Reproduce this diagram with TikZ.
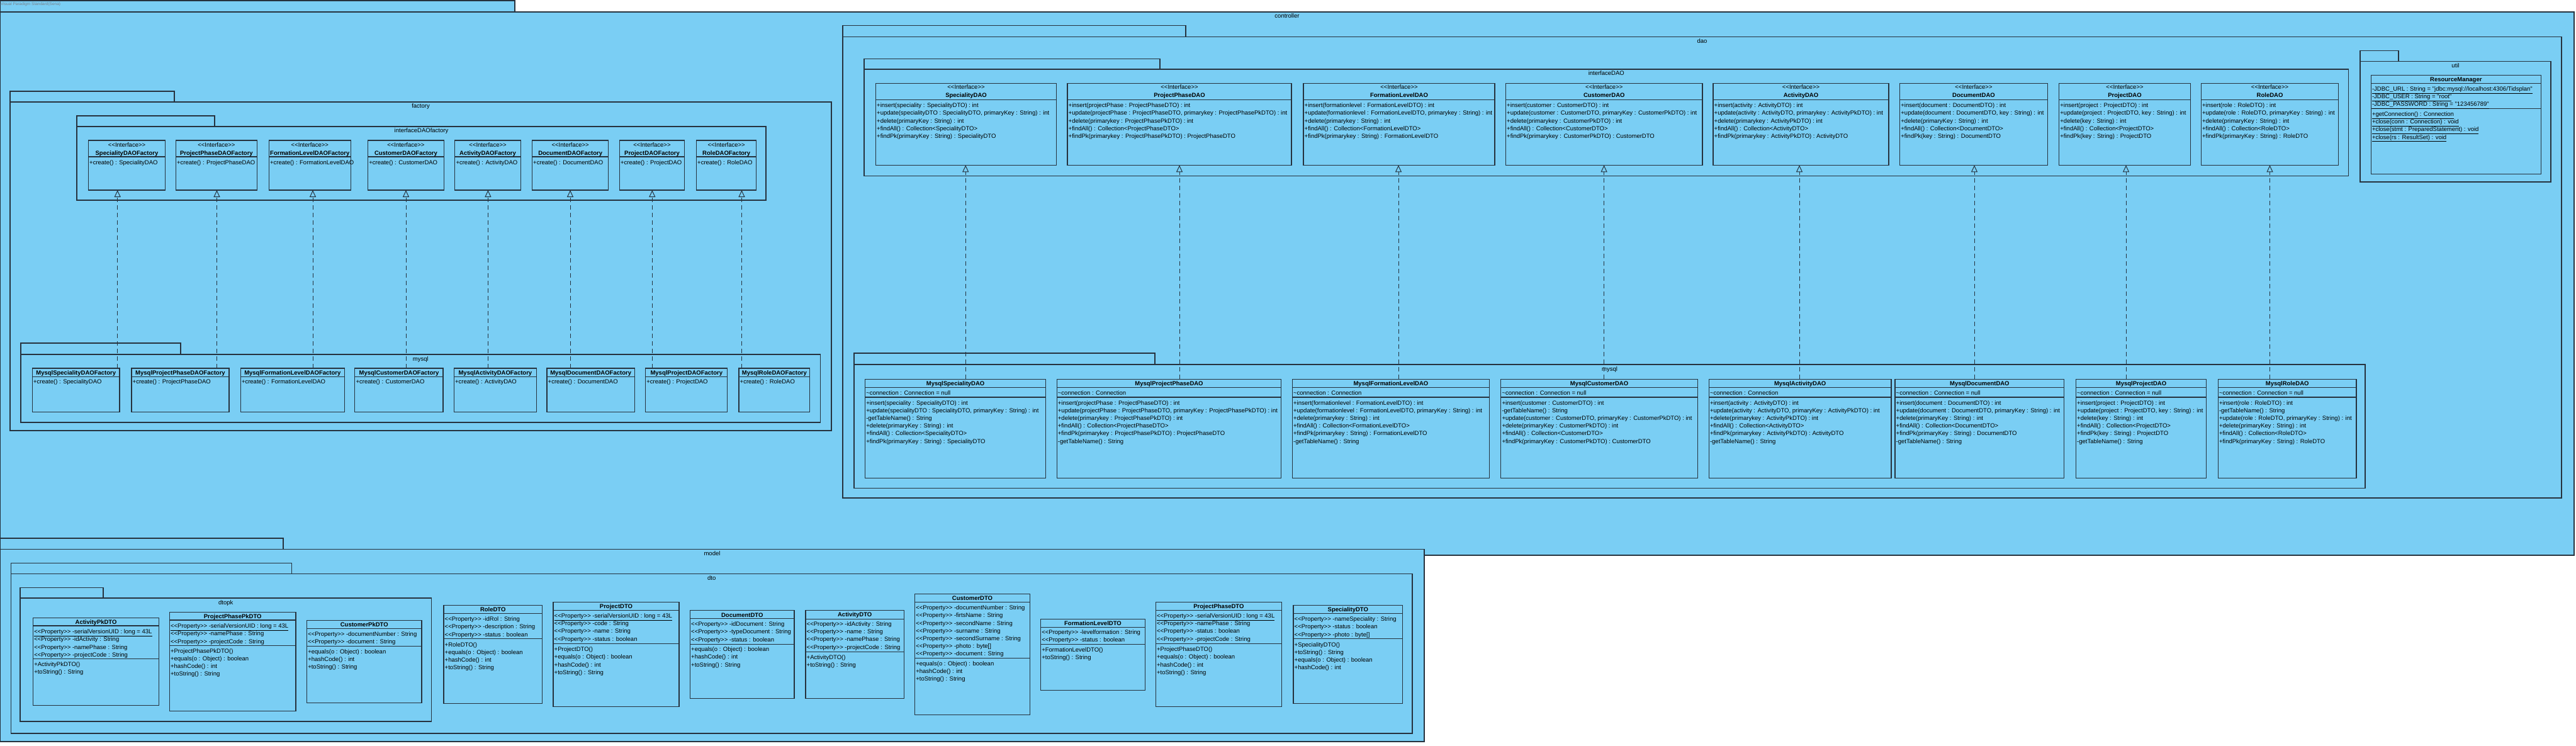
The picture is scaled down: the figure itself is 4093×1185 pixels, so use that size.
\documentclass[tikz,border=0pt]{standalone}
\usepackage{fontspec}
\setmainfont{Liberation Sans}[Ligatures=TeXOff]
\usetikzlibrary{arrows.meta}
\definecolor{bg}{RGB}{122,206,244}
\definecolor{lc}{RGB}{38,50,62}
\definecolor{wm}{RGB}{120,130,140}
\tikzset{
 pk/.style={draw=lc,fill=bg,line width=1.4pt,inner sep=0pt,outer sep=0pt,anchor=north west},
 cb/.style={draw=lc,fill=bg,line width=1.1pt,inner sep=0pt,outer sep=0pt,anchor=north west},
 dvl/.style={draw=lc,line width=1.1pt},
 pl/.style={font=\fontsize{9.5}{12}\selectfont,inner sep=0pt,anchor=base},
 hd/.style={font=\fontsize{9.5}{13}\selectfont,inner sep=0pt,anchor=north,align=center},
 ct/.style={font=\fontsize{9.5}{12.2}\selectfont,inner sep=0pt,anchor=north west,align=left},
 real/.style={draw=lc,line width=1pt,dash pattern=on 7pt off 5pt,-{Triangle[open,length=11pt,width=10pt]}},
 wmk/.style={font=\fontsize{6.5}{8}\selectfont,text=wm,inner sep=0pt,anchor=west},
}
\newcommand\pkgbox[8]{%
 \node[pk,minimum width={(#5-#3)*1pt},minimum height={(#6-#4)*1pt}] (#1t) at (#3,#4) {};
 \node[pk,minimum width={(#7-#3)*1pt},minimum height={(#8-#6)*1pt}] (#1) at (#3,#6) {};
 \node[pl] (#1l) at ({(#3+#7)/2},{#6+10}) {#2};}
\newcommand\cls[5]{\node[cb,minimum width={(#4-#2)*1pt},minimum height={(#5-#3)*1pt}] (#1) at (#2,#3) {};}
\newcommand\cdiv[2]{\draw[dvl] (#1.west |- 0,#2) -- (#1.east |- 0,#2);}
\newcommand\chd[3]{\node[hd] (#1h) at (#1.north |- 0,#2-5.7) {\strut #3};}
\newcommand\ccp[4]{\node[ct] (#1) at ({#2+1.5},{#3-5}) {\strut #4};}
\begin{document}
\begin{tikzpicture}[x=1pt,y=-1pt]
\fill[white] (0,0) rectangle (4093,1185);
\useasboundingbox (0,0) rectangle (4093,1185);

% ---------------- controller
\pkgbox{ctl}{controller}{0}{1}{818}{19}{4090}{882}
\node[wmk] (wmark) at (1,7) {Visual Paradigm Standard(Sena)};

\pkgbox{fac}{factory}{16}{145}{277}{162}{1321}{684}
\pkgbox{ifac}{interfaceDAOfactory}{122}{184}{341}{201}{1217}{318}
\pkgbox{mfac}{mysql}{33}{545}{287}{563}{1303.5}{671}

\pkgbox{dao}{dao}{1339}{40.3}{1884}{58.3}{4070}{791}
\pkgbox{idao}{interfaceDAO}{1373}{93.3}{1843}{110}{3731.5}{279.3}
\pkgbox{util}{util}{3750}{80.3}{3811}{97.3}{4053}{289}
\pkgbox{mdao}{mysql}{1357}{561}{1835}{579}{3758}{775.3}

% ---------------- model
\pkgbox{mod}{model}{0}{855}{450}{872.3}{2263}{1178}
\pkgbox{dto}{dto}{17.6}{894.3}{463.5}{911.3}{2244}{1165}
\pkgbox{dtopk}{dtopk}{32}{933.3}{164}{950}{685.4}{1146}

% ---------------- factory interfaces
\foreach \i/\xa/\xb/\nm in {1/140.5/262.6/Speciality,2/279.4/408.5/ProjectPhase,3/427.4/557.2/FormationLevel,4/584.6/705.2/Customer,5/722.8/827.3/Activity,6/845.5/966.9/Document,7/984.4/1087.6/Project,8/1106.5/1201.9/Role}{
 \cls{fi\i}{\xa}{223}{\xb}{302}
 \cdiv{fi\i}{249}
 \chd{fi\i}{230}{<<Interface>>\\\textbf{\nm DAOFactory}}
 \ccp{fi\i o}{\xa}{258}{+create() : \nm DAO}
}
% ---------------- mysql factories
\foreach \i/\xa/\xb/\nm in {1/51.5/190/Speciality,2/209/364/ProjectPhase,3/382.3/547.3/FormationLevel,4/563.9/704/Customer,5/721.4/852.4/Activity,6/869/1008.3/Document,7/1025.7/1155.9/Project,8/1174/1286.9/Role}{
 \cls{mf\i}{\xa}{585}{\xb}{654.3}
 \cdiv{mf\i}{598.3}
 \chd{mf\i}{592}{\textbf{Mysql\nm DAOFactory}}
 \ccp{mf\i o}{\xa}{606}{+create() : \nm DAO}
}

% ---------------- DAO interfaces
\cls{di1}{1391.5}{132.3}{1678.5}{262.3}\cdiv{di1}{158.3}
\chd{di1}{138.3}{<<Interface>>\\\textbf{SpecialityDAO}}
\ccp{di1o}{1391.5}{167}{+insert(speciality : SpecialityDTO) : int\\+update(specialityDTO : SpecialityDTO, primaryKey : String) : int\\+delete(primaryKey : String) : int\\+findAll() : Collection<SpecialityDTO>\\+findPk(primaryKey : String) : SpecialityDTO}

\cls{di2}{1696}{132.3}{2052}{262.3}\cdiv{di2}{158.3}
\chd{di2}{138.3}{<<Interface>>\\\textbf{ProjectPhaseDAO}}
\ccp{di2o}{1696}{167}{+insert(projectPhase : ProjectPhaseDTO) : int\\+update(projectPhase : ProjectPhaseDTO, primarykey : ProjectPhasePkDTO) : int\\+delete(primarykey : ProjectPhasePkDTO) : int\\+findAll() : Collection<ProjectPhaseDTO>\\+findPk(primarykey : ProjectPhasePkDTO) : ProjectPhaseDTO}

\cls{di3}{2071}{132.3}{2375}{262.3}\cdiv{di3}{158.3}
\chd{di3}{138.3}{<<Interface>>\\\textbf{FormationLevelDAO}}
\ccp{di3o}{2071}{167}{+insert(formationlevel : FormationLevelDTO) : int\\+update(formationlevel : FormationLevelDTO, primarykey : String) : int\\+delete(primarykey : String) : int\\+findAll() : Collection<FormationLevelDTO>\\+findPk(primarykey : String) : FormationLevelDTO}

\cls{di4}{2392.5}{132.3}{2705}{262.3}\cdiv{di4}{158.3}
\chd{di4}{138.3}{<<Interface>>\\\textbf{CustomerDAO}}
\ccp{di4o}{2392.5}{167}{+insert(customer : CustomerDTO) : int\\+update(customer : CustomerDTO, primaryKey : CustomerPkDTO) : int\\+delete(primarykey : CustomerPkDTO) : int\\+findAll() : Collection<CustomerDTO>\\+findPk(primarykey : CustomerPkDTO) : CustomerDTO}

\cls{di5}{2722}{132.3}{3001}{262.3}\cdiv{di5}{158.3}
\chd{di5}{138.3}{<<Interface>>\\\textbf{ActivityDAO}}
\ccp{di5o}{2722}{167}{+insert(activity : ActivityDTO) : int\\+update(activity : ActivityDTO, primarykey : ActivityPkDTO) : int\\+delete(primarykey : ActivityPkDTO) : int\\+findAll() : Collection<ActivityDTO>\\+findPk(primarykey : ActivityPkDTO) : ActivityDTO}

\cls{di6}{3018.7}{132.3}{3253.2}{262.3}\cdiv{di6}{158.3}
\chd{di6}{138.3}{<<Interface>>\\\textbf{DocumentDAO}}
\ccp{di6o}{3018.7}{167}{+insert(document : DocumentDTO) : int\\+update(document : DocumentDTO, key : String) : int\\+delete(primaryKey : String) : int\\+findAll() : Collection<DocumentDTO>\\+findPk(key : String) : DocumentDTO}

\cls{di7}{3271.7}{132.3}{3480.3}{262.3}\cdiv{di7}{158.3}
\chd{di7}{138.3}{<<Interface>>\\\textbf{ProjectDAO}}
\ccp{di7o}{3271.7}{167}{+insert(project : ProjectDTO) : int\\+update(project : ProjectDTO, key : String) : int\\+delete(key : String) : int\\+findAll() : Collection<ProjectDTO>\\+findPk(key : String) : ProjectDTO}

\cls{di8}{3497.4}{132.3}{3715.6}{262.3}\cdiv{di8}{158.3}
\chd{di8}{138.3}{<<Interface>>\\\textbf{RoleDAO}}
\ccp{di8o}{3497.4}{167}{+insert(role : RoleDTO) : int\\+update(role : RoleDTO, primaryKey : String) : int\\+delete(primaryKey : String) : int\\+findAll() : Collection<RoleDTO>\\+findPk(primaryKey : String) : RoleDTO}

% ---------------- ResourceManager
\cls{rm}{3767.3}{119.3}{4037.3}{276.3}\cdiv{rm}{132.3}\cdiv{rm}{172.3}
\chd{rm}{125.7}{\textbf{ResourceManager}}
\ccp{rma}{3767.3}{140.7}{\underline{-JDBC\_URL : String = "jdbc:mysql://localhost:4306/Tidsplan"}\\\underline{-JDBC\_USER : String = "root"}\\\underline{-JDBC\_PASSWORD : String = "123456789"}}
\ccp{rmo}{3767.3}{180.7}{\underline{+getConnection() : Connection}\\\underline{+close(conn : Connection) : void}\\\underline{+close(stmt : PreparedStatement) : void}\\\underline{+close(rs : ResultSet) : void}}

% ---------------- Mysql DAOs
\cls{md1}{1374.6}{602.3}{1661.6}{759.3}\cdiv{md1}{615.7}\cdiv{md1}{631}
\chd{md1}{609}{\textbf{MysqlSpecialityDAO}}
\ccp{md1a}{1374.6}{624}{\textasciitilde connection : Connection = null}
\ccp{md1o}{1374.6}{639.3}{+insert(speciality : SpecialityDTO) : int\\+update(specialityDTO : SpecialityDTO, primaryKey : String) : int\\-getTableName() : String\\+delete(primaryKey : String) : int\\+findAll() : Collection<SpecialityDTO>\\+findPk(primaryKey : String) : SpecialityDTO}

\cls{md2}{1679.2}{602.3}{2035.8}{759.3}\cdiv{md2}{615.7}\cdiv{md2}{631}
\chd{md2}{609}{\textbf{MysqlProjectPhaseDAO}}
\ccp{md2a}{1679.2}{624}{\textasciitilde connection : Connection}
\ccp{md2o}{1679.2}{639.3}{+insert(projectPhase : ProjectPhaseDTO) : int\\+update(projectPhase : ProjectPhaseDTO, primaryKey : ProjectPhasePkDTO) : int\\+delete(primarykey : ProjectPhasePkDTO) : int\\+findAll() : Collection<ProjectPhaseDTO>\\+findPk(primarykey : ProjectPhasePkDTO) : ProjectPhaseDTO\\-getTableName() : String}

\cls{md3}{2053.4}{602.3}{2366.4}{759.3}\cdiv{md3}{615.7}\cdiv{md3}{631}
\chd{md3}{609}{\textbf{MysqlFormationLevelDAO}}
\ccp{md3a}{2053.4}{624}{\textasciitilde connection : Connection}
\ccp{md3o}{2053.4}{639.3}{+insert(formationlevel : FormationLevelDTO) : int\\+update(formationlevel : FormationLevelDTO, primaryKey : String) : int\\+delete(primarykey : String) : int\\+findAll() : Collection<FormationLevelDTO>\\+findPk(primarykey : String) : FormationLevelDTO\\-getTableName() : String}

\cls{md4}{2384.8}{602.3}{2697.2}{759.3}\cdiv{md4}{615.7}\cdiv{md4}{631}
\chd{md4}{609}{\textbf{MysqlCustomerDAO}}
\ccp{md4a}{2384.8}{624}{\textasciitilde connection : Connection = null}
\ccp{md4o}{2384.8}{639.3}{+insert(customer : CustomerDTO) : int\\-getTableName() : String\\+update(customer : CustomerDTO, primaryKey : CustomerPkDTO) : int\\+delete(primaryKey : CustomerPkDTO) : int\\+findAll() : Collection<CustomerDTO>\\+findPk(primaryKey : CustomerPkDTO) : CustomerDTO}

\cls{md5}{2715.3}{602.3}{3005}{759.3}\cdiv{md5}{615.7}\cdiv{md5}{631}
\chd{md5}{609}{\textbf{MysqlActivityDAO}}
\ccp{md5a}{2715.3}{624}{\textasciitilde connection : Connection}
\ccp{md5o}{2715.3}{639.3}{+insert(activity : ActivityDTO) : int\\+update(activity : ActivityDTO, primaryKey : ActivityPkDTO) : int\\+delete(primarykey : ActivityPkDTO) : int\\+findAll() : Collection<ActivityDTO>\\+findPk(primarykey : ActivityPkDTO) : ActivityDTO\\-getTableName() : String}

\cls{md6}{3011}{602.3}{3279.7}{759.3}\cdiv{md6}{615.7}\cdiv{md6}{631}
\chd{md6}{609}{\textbf{MysqlDocumentDAO}}
\ccp{md6a}{3011}{624}{\textasciitilde connection : Connection = null}
\ccp{md6o}{3011}{639.3}{+insert(document : DocumentDTO) : int\\+update(document : DocumentDTO, primaryKey : String) : int\\+delete(primaryKey : String) : int\\+findAll() : Collection<DocumentDTO>\\+findPk(primaryKey : String) : DocumentDTO\\-getTableName() : String}

\cls{md7}{3298.5}{602.3}{3505.5}{759.3}\cdiv{md7}{615.7}\cdiv{md7}{631}
\chd{md7}{609}{\textbf{MysqlProjectDAO}}
\ccp{md7a}{3298.5}{624}{\textasciitilde connection : Connection = null}
\ccp{md7o}{3298.5}{639.3}{+insert(project : ProjectDTO) : int\\+update(project : ProjectDTO, key : String) : int\\+delete(key : String) : int\\+findAll() : Collection<ProjectDTO>\\+findPk(key : String) : ProjectDTO\\-getTableName() : String}

\cls{md8}{3524.3}{602.3}{3744}{759.3}\cdiv{md8}{615.7}\cdiv{md8}{631}
\chd{md8}{609}{\textbf{MysqlRoleDAO}}
\ccp{md8a}{3524.3}{624}{\textasciitilde connection : Connection = null}
\ccp{md8o}{3524.3}{639.3}{+insert(role : RoleDTO) : int\\-getTableName() : String\\+update(role : RoleDTO, primaryKey : String) : int\\+delete(primaryKey : String) : int\\+findAll() : Collection<RoleDTO>\\+findPk(primaryKey : String) : RoleDTO}

% ---------------- DTO pk
\cls{apk}{52.6}{981.7}{252.6}{1120.3}\cdiv{apk}{994}\cdiv{apk}{1046.7}
\chd{apk}{988}{\textbf{ActivityPkDTO}}
\ccp{apka}{52.6}{1003}{\underline{<<Property>> -serialVersionUID : long = 43L}\\<<Property>> -idActivity : String\\<<Property>> -namePhase : String\\<<Property>> -projectCode : String}
\ccp{apko}{52.6}{1055}{+ActivityPkDTO()\\+toString() : String}

\cls{ppk}{269.4}{972.3}{470}{1129.3}\cdiv{ppk}{985}\cdiv{ppk}{1025.3}
\chd{ppk}{978.7}{\textbf{ProjectPhasePkDTO}}
\ccp{ppka}{269.4}{994}{\underline{<<Property>> -serialVersionUID : long = 43L}\\<<Property>> -namePhase : String\\<<Property>> -projectCode : String}
\ccp{ppko}{269.4}{1033.3}{+ProjectPhasePkDTO()\\+equals(o : Object) : boolean\\+hashCode() : int\\+toString() : String}

\cls{cpk}{487.6}{985.3}{670}{1116.3}\cdiv{cpk}{998.3}\cdiv{cpk}{1026.7}
\chd{cpk}{991.7}{\textbf{CustomerPkDTO}}
\ccp{cpka}{487.6}{1006.7}{<<Property>> -documentNumber : String\\<<Property>> -document : String}
\ccp{cpko}{487.6}{1034.7}{+equals(o : Object) : boolean\\+hashCode() : int\\+toString() : String}

% ---------------- DTO
\cls{rdto}{705}{961.7}{861.5}{1117.3}\cdiv{rdto}{974.7}\cdiv{rdto}{1014.7}
\chd{rdto}{967.7}{\textbf{RoleDTO}}
\ccp{rdtoa}{705}{983}{<<Property>> -idRol : String\\<<Property>> -description : String\\<<Property>> -status : boolean}
\ccp{rdtoo}{705}{1023.3}{+RoleDTO()\\+equals(o : Object) : boolean\\+hashCode() : int\\+toString() : String}

\cls{pdto}{879}{956.7}{1079}{1122.3}\cdiv{pdto}{969.3}\cdiv{pdto}{1022.7}
\chd{pdto}{963.3}{\textbf{ProjectDTO}}
\ccp{pdtoa}{879}{977.7}{\underline{<<Property>> -serialVersionUID : long = 43L}\\<<Property>> -code : String\\<<Property>> -name : String\\<<Property>> -status : boolean}
\ccp{pdtoo}{879}{1031}{+ProjectDTO()\\+equals(o : Object) : boolean\\+hashCode() : int\\+toString() : String}

\cls{ddto}{1096.5}{969.3}{1262}{1109.3}\cdiv{ddto}{982.3}\cdiv{ddto}{1023.3}
\chd{ddto}{976.7}{\textbf{DocumentDTO}}
\ccp{ddtoa}{1096.5}{991}{<<Property>> -idDocument : String\\<<Property>> -typeDocument : String\\<<Property>> -status : boolean}
\ccp{ddtoo}{1096.5}{1031}{+equals(o : Object) : boolean\\+hashCode() : int\\+toString() : String}

\cls{adto}{1280}{969.3}{1436.4}{1109.3}\cdiv{adto}{983.3}\cdiv{adto}{1035.3}
\chd{adto}{976.3}{\textbf{ActivityDTO}}
\ccp{adtoa}{1280}{990.7}{<<Property>> -idActivity : String\\<<Property>> -name : String\\<<Property>> -namePhase : String\\<<Property>> -projectCode : String}
\ccp{adtoo}{1280}{1043.3}{+ActivityDTO()\\+toString() : String}

\cls{cdto}{1453.6}{943.3}{1636.4}{1135.3}\cdiv{cdto}{956.7}\cdiv{cdto}{1045.3}
\chd{cdto}{950}{\textbf{CustomerDTO}}
\ccp{cdtoa}{1453.6}{965}{<<Property>> -documentNumber : String\\<<Property>> -firtsName : String\\<<Property>> -secondName : String\\<<Property>> -surname : String\\<<Property>> -secondSurname : String\\<<Property>> -photo : byte[]\\<<Property>> -document : String}
\ccp{cdtoo}{1453.6}{1053.7}{+equals(o : Object) : boolean\\+hashCode() : int\\+toString() : String}

\cls{fdto}{1653.6}{983.7}{1819.3}{1096.3}\cdiv{fdto}{996.3}\cdiv{fdto}{1023.7}
\chd{fdto}{990}{\textbf{FormationLevelDTO}}
\ccp{fdtoa}{1653.6}{1004}{<<Property>> -levelformation : String\\<<Property>> -status : boolean}
\ccp{fdtoo}{1653.6}{1032}{+FormationLevelDTO()\\+toString() : String}

\cls{phdto}{1836.4}{956.3}{2036.4}{1122.3}\cdiv{phdto}{969.3}\cdiv{phdto}{1022.3}
\chd{phdto}{962.7}{\textbf{ProjectPhaseDTO}}
\ccp{phdtoa}{1836.4}{977.7}{\underline{<<Property>> -serialVersionUID : long = 43L}\\<<Property>> -namePhase : String\\<<Property>> -status : boolean\\<<Property>> -projectCode : String}
\ccp{phdtoo}{1836.4}{1031}{+ProjectPhaseDTO()\\+equals(o : Object) : boolean\\+hashCode() : int\\+toString() : String}

\cls{sdto}{2055}{961.7}{2228.6}{1117.3}\cdiv{sdto}{974.7}\cdiv{sdto}{1014.3}
\chd{sdto}{967.7}{\textbf{SpecialityDTO}}
\ccp{sdtoa}{2055}{983}{<<Property>> -nameSpeciality : String\\<<Property>> -status : boolean\\<<Property>> -photo : byte[]}
\ccp{sdtoo}{2055}{1023.3}{+SpecialityDTO()\\+toString() : String\\+equals(o : Object) : boolean\\+hashCode() : int}

% ---------------- realizations
\foreach \i/\x in {1/186.7,2/344.5,3/497,4/645,5/775.4,6/906,7/1036.3,8/1178.5}{
 \draw[real] (mf\i.north -| \x,0) -- (fi\i.south -| \x,0);
}
\foreach \i/\x in {1/1534.2,2/1874,3/2222,4/2548.6,5/2859,6/3137,7/3378,8/3606.5}{
 \draw[real] (md\i.north -| \x,0) -- (di\i.south -| \x,0);
}
\end{tikzpicture}
\end{document}
